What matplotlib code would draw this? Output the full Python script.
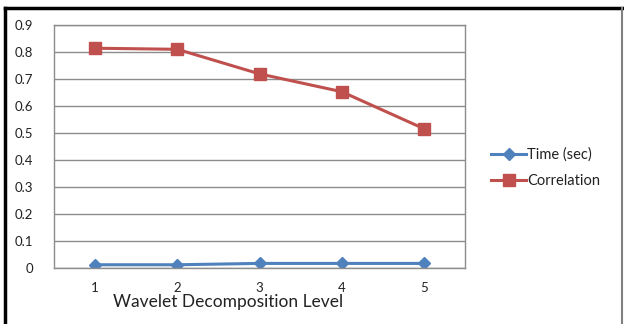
import matplotlib
matplotlib.use("Agg")
import matplotlib.pyplot as plt
from matplotlib.lines import Line2D

levels = [1, 2, 3, 4, 5]
time_sec = [0.012, 0.012, 0.017, 0.017, 0.017]
correlation = [0.814, 0.810, 0.719, 0.653, 0.516]
yticks = [0, 0.1, 0.2, 0.3, 0.4, 0.5, 0.6, 0.7, 0.8, 0.9]
ytick_labels = ["0", "0.1", "0.2", "0.3", "0.4", "0.5", "0.6", "0.7", "0.8", "0.9"]

plt.rcParams['font.family'] = ['Lato', 'DejaVu Sans']

W, H = 624, 324
fig = plt.figure(figsize=(W / 100, H / 100), dpi=100)

# plot area in pixel coords
left, right, top, bottom = 54, 465, 25, 268
ax = fig.add_axes([left / W, 1 - bottom / H, (right - left) / W, (bottom - top) / H])

ax.plot(levels, time_sec, color="#4F81BD", lw=2.2, marker="D", ms=6.5,
        label="Time (sec)")
ax.plot(levels, correlation, color="#C0504D", lw=2.2, marker="s", ms=8.5,
        label="Correlation")

ax.set_xlim(0.5, 5.5)
ax.set_ylim(0, 0.9)
ax.set_yticks(yticks)
ax.set_yticklabels(ytick_labels)
ax.set_xticks(levels)
ax.grid(axis="y", color="#8c8c8c", lw=1.0)
ax.set_axisbelow(True)
for s in ax.spines.values():
    s.set_color("#8c8c8c")
    s.set_linewidth(1.0)
ax.tick_params(length=0, labelsize=9.5, colors="#222222", pad=10)
ax.tick_params(axis="y", pad=15)
ax.set_xlabel("Wavelet Decomposition Level", fontsize=12.5, color="#222222",
              labelpad=1)
# label sits left of centre in the original
ax.xaxis.set_label_coords((228 - left) / (right - left), -0.105)

# legend
handles = [Line2D([], [], color="#4F81BD", lw=2.2, marker="D", ms=6),
           Line2D([], [], color="#C0504D", lw=2.2, marker="s", ms=8)]
fig.legend(handles, ["Time (sec)", "Correlation"], loc="center left",
           bbox_to_anchor=(478 / W, 1 - 168 / H), frameon=False, fontsize=10.5,
           handlelength=2.4, handletextpad=0.05, labelspacing=0.85,
           labelcolor="#222222")

# outer frame
fig.add_artist(Line2D([5 / W, 5 / W], [0, 1 - 8 / H], color="black", lw=2.5,
                      transform=fig.transFigure))
fig.add_artist(Line2D([5 / W, 622 / W], [1 - 8 / H, 1 - 8 / H], color="black",
                      lw=2.5, transform=fig.transFigure))
fig.add_artist(Line2D([622 / W, 622 / W], [0, 1 - 8 / H], color="#808080",
                      lw=1.5, transform=fig.transFigure))

fig.savefig("out.png", dpi=100)
